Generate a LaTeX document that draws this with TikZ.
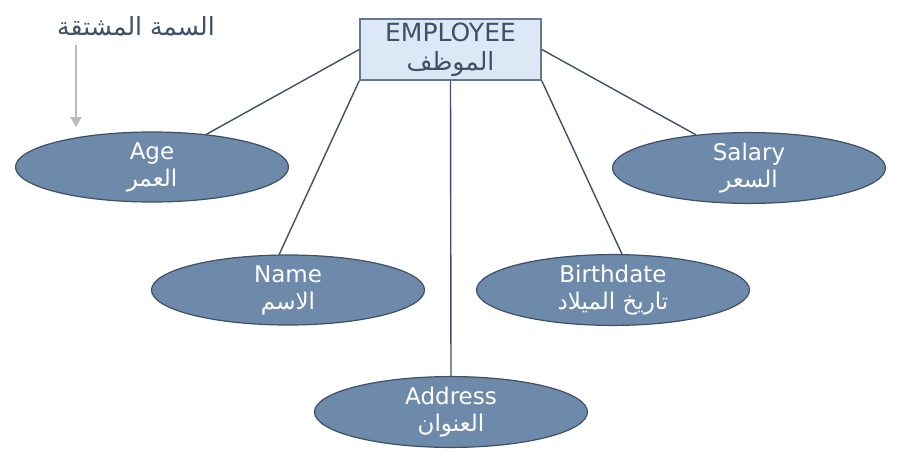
\documentclass[tikz,border=0pt]{standalone}
\usepackage{fontspec}
\usepackage{xcolor}
\usepackage{tikz}
\usetikzlibrary{shapes.geometric,arrows.meta}
\setmainfont{DejaVu Sans}
\newfontfamily\arabicfont[Script=Arabic]{DejaVu Sans}
\TeXXeTstate=1
\definecolor{InkSlate}{HTML}{3E4F67}
\definecolor{BoxBlue}{HTML}{DCE8F5}
\definecolor{BoxEdge}{HTML}{647891}
\definecolor{AttrBlue}{HTML}{6E8AAA}
\definecolor{HintGrey}{HTML}{B3BBC6}
\newcommand{\ar}[1]{{\arabicfont\beginR #1\endR}}

\begin{document}
\begin{tikzpicture}[x=1pt, y=-1pt,
    entity/.style={draw=BoxEdge, fill=BoxBlue, line width=1.6pt,
      minimum width=181pt, minimum height=61pt, inner sep=0pt,
      align=center, text=InkSlate, font=\fontsize{25}{29}\selectfont},
    attr/.style={ellipse, draw=InkSlate, fill=AttrBlue, line width=1.2pt,
      minimum width=273pt, minimum height=70pt, inner sep=0pt,
      align=center, text=white, font=\fontsize{23}{27}\selectfont},
    link/.style={draw=InkSlate, line width=1.4pt}]
        \useasboundingbox (0,0) rectangle (900,463);

        % entity and its attributes
        \node[entity] (emp) at (450.5,49.5) {EMPLOYEE\\\ar{الموظف}};
        \node[attr] (age) at (152,167) {Age\\\ar{العمر}};
        \node[attr] (name) at (288,290) {Name\\\ar{الاسم}};
        \node[attr] (addr) at (451,412) {Address\\\ar{العنوان}};
        \node[attr] (birth) at (613,290) {Birthdate\\\ar{تاريخ الميلاد}};
        \node[attr] (salary) at (749,168) {Salary\\\ar{السعر}};

        \draw[link] (emp.west) -- (age.31);
        \draw[link] (emp.south west) -- (name.104);
        \draw[link] (emp.south) -- (addr.north);
        \draw[link] (emp.south east) -- (birth.76);
        \draw[link] (emp.east) -- (salary.148);

        % derived attribute hint
        \node[text=InkSlate, font=\fontsize{25}{29}\selectfont] (derived) at (136,26)
          {\ar{السمة المشتقة}};
        \coordinate (hinttail) at (76,45);
        \coordinate (hinthead) at (76,127);
        \draw[draw=HintGrey, line width=1.6pt, -{Triangle[length=10pt,width=11pt]}]
          (hinttail) -- (hinthead);
      \end{tikzpicture}
\end{document}
